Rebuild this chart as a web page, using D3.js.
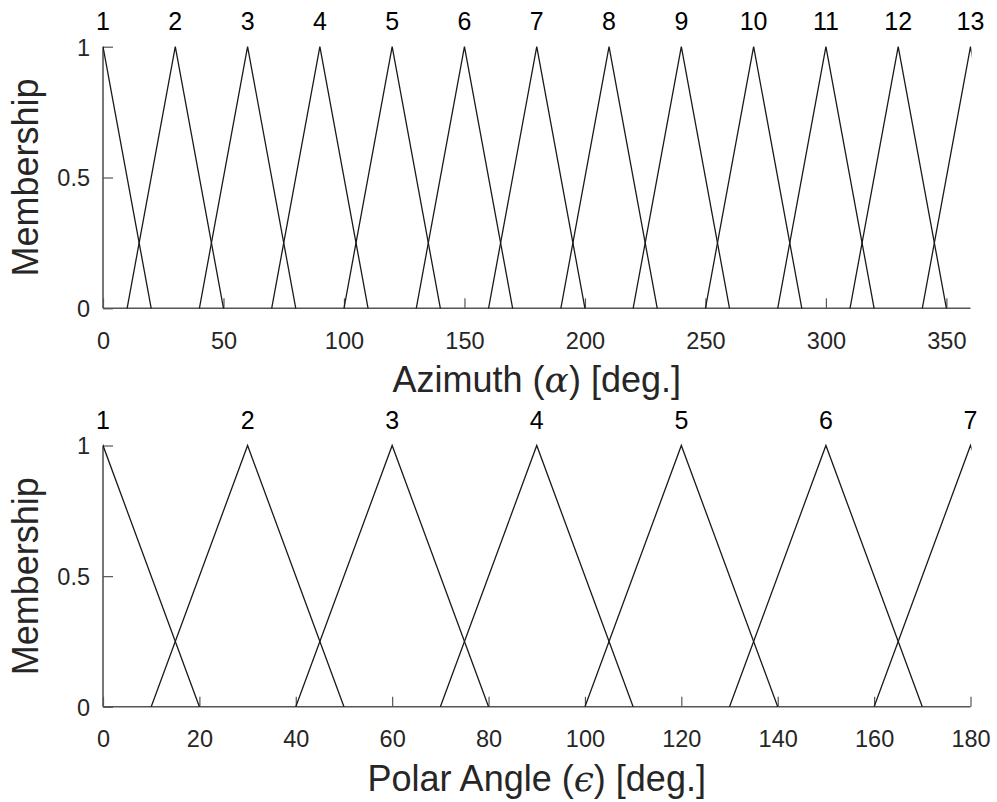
<!DOCTYPE html>
<html>
<head>
<meta charset="utf-8">
<script src="https://cdn.jsdelivr.net/npm/d3@7"></script>
<style>
  html, body { margin: 0; padding: 0; background: #fff; }
  svg { display: block; }
</style>
</head>
<body>
<svg id="chart" width="997" height="802"></svg>
<script>
// ---- data ----
const azimuthCenters = [0, 30, 60, 90, 120, 150, 180, 210, 240, 270, 300, 330, 360];
const azimuthLabels = ["1","2","3","4","5","6","7","8","9","10","11","12","13"];
const azimuthTicks = [0, 50, 100, 150, 200, 250, 300, 350];
const polarCenters = [0, 30, 60, 90, 120, 150, 180];
const polarLabels = ["1","2","3","4","5","6","7"];
const polarTicks = [0, 20, 40, 60, 80, 100, 120, 140, 160, 180];
const halfWidth = 20;          // triangle half-support in degrees
const yTicks = [0, 0.5, 1];
const yTickLabels = ["0", "0.5", "1"];

const svg = d3.select("#chart");
const axisColor = "#555";
const textColor = "#262626";
const font = "'Liberation Sans', Arial, Helvetica, sans-serif";

function panel(opts) {
  const { top, bottom, domainMax, centers, labels, ticks, title, symbol } = opts;
  const left = 103, right = 970.5;
  const x = d3.scaleLinear().domain([0, domainMax]).range([left, right]);
  const y = d3.scaleLinear().domain([0, 1]).range([bottom, top]);

  const g = svg.append("g");
  const clipId = "clip" + Math.round(top);
  g.append("clipPath").attr("id", clipId)
    .append("rect").attr("x", left).attr("y", top - 2)
    .attr("width", right - left + 1).attr("height", bottom - top + 4);

  // axes
  const xAxis = d3.axisBottom(x).tickValues(ticks).tickSize(-10).tickPadding(0).tickFormat(d3.format("d"));
  const gx = g.append("g").attr("transform", `translate(0,${bottom})`).call(xAxis);
  gx.select(".domain").attr("stroke", axisColor).attr("stroke-width", 1.6)
    .attr("d", `M${left},0H${right}`);
  gx.selectAll(".tick line").attr("stroke", axisColor).attr("stroke-width", 1.2);
  gx.selectAll(".tick text").attr("fill", textColor).attr("font-size", 23.5)
    .attr("font-family", font).attr("y", 40.5).attr("dy", null);

  const yAxis = d3.axisLeft(y).tickValues(yTicks).tickSize(-10).tickPadding(0)
    .tickFormat((d, i) => yTickLabels[i]);
  const gy = g.append("g").attr("transform", `translate(${left},0)`).call(yAxis);
  gy.select(".domain").attr("stroke", axisColor).attr("stroke-width", 1.6)
    .attr("d", `M0,${top}V${bottom}`);
  gy.selectAll(".tick line").attr("stroke", axisColor).attr("stroke-width", 1.2);
  gy.selectAll(".tick text").attr("fill", textColor).attr("font-size", 23.5)
    .attr("font-family", font).attr("x", -13).attr("dy", "0.36em");

  // triangles
  const line = d3.line().x(d => x(d[0])).y(d => y(d[1]));
  g.append("g").attr("clip-path", `url(#${clipId})`)
    .selectAll("path").data(centers).join("path")
    .attr("d", c => line([[c - halfWidth, 0], [c, 1], [c + halfWidth, 0]]))
    .attr("fill", "none").attr("stroke", "#1a1a1a").attr("stroke-width", 1.3);

  // peak labels
  g.append("g").selectAll("text").data(centers).join("text")
    .attr("x", c => x(c)).attr("y", y(1) - 16.5)
    .attr("text-anchor", "middle").attr("font-family", font)
    .attr("font-size", 25).attr("fill", "#000")
    .text((c, i) => labels[i]);

  // y title
  g.append("text")
    .attr("transform", `translate(38,${y(0.5)}) rotate(-90)`)
    .attr("text-anchor", "middle").attr("font-family", font)
    .attr("font-size", 36).attr("fill", textColor)
    .text("Membership");

  // x title
  const t = g.append("text")
    .attr("x", (left + right) / 2).attr("y", bottom + 84)
    .attr("text-anchor", "middle").attr("font-family", font)
    .attr("font-size", 36).attr("fill", textColor);
  t.append("tspan").text(title + " (");
  t.append("tspan").attr("font-family", "'DejaVu Serif', 'Liberation Serif', serif")
    .attr("font-style", "italic").text(symbol);
  t.append("tspan").text(") [deg.]");
}

panel({ top: 46.7, bottom: 308.3, domainMax: 360, centers: azimuthCenters,
        labels: azimuthLabels, ticks: azimuthTicks, title: "Azimuth", symbol: "\u03B1" });
panel({ top: 445.5, bottom: 706.8, domainMax: 180, centers: polarCenters,
        labels: polarLabels, ticks: polarTicks, title: "Polar Angle", symbol: "\u03F5" });
</script>
</body>
</html>
